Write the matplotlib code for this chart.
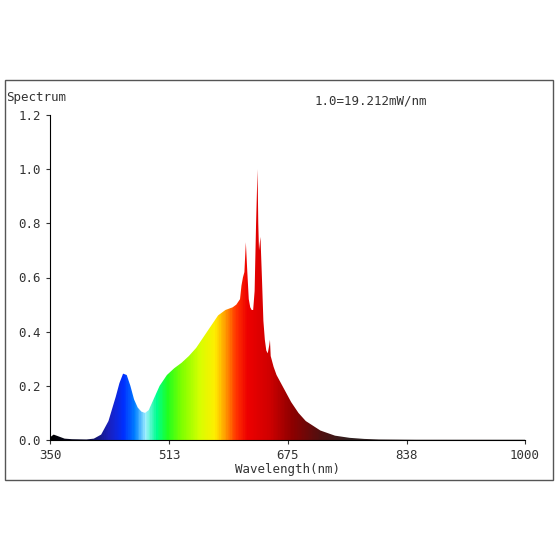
import numpy as np
import matplotlib
matplotlib.use('Agg')
import matplotlib.pyplot as plt
from matplotlib.colors import LinearSegmentedColormap
from matplotlib.patches import Polygon, Rectangle

# wavelength (nm) and relative intensity
wl = [350, 355, 360, 365, 370, 380, 400, 410, 420, 430, 440, 445, 450, 455, 460, 465, 470, 475,
      480, 485, 490, 500, 510, 520, 530, 540, 550, 560, 570, 580, 590, 600, 605, 610, 612, 614,
      616, 618, 620, 622, 624, 626, 628, 630, 632, 634, 635, 636, 638, 640, 642, 644, 646, 648,
      650, 651, 652, 654, 656, 660, 670, 680, 690, 700, 720, 740, 760, 780, 800, 850, 900, 950, 1000]
val = [0.01, 0.02, 0.015, 0.01, 0.005, 0.003, 0.002, 0.005, 0.02, 0.07, 0.16, 0.21, 0.245, 0.24, 0.2,
       0.15, 0.12, 0.105, 0.1, 0.11, 0.14, 0.2, 0.24, 0.265, 0.285, 0.31, 0.34, 0.38, 0.42, 0.46,
       0.48, 0.49, 0.5, 0.52, 0.57, 0.6, 0.62, 0.73, 0.62, 0.52, 0.49, 0.48, 0.48, 0.55, 0.8, 1.0,
       0.8, 0.7, 0.75, 0.6, 0.44, 0.37, 0.33, 0.32, 0.35, 0.37, 0.31, 0.29, 0.27, 0.24, 0.19, 0.14,
       0.1, 0.07, 0.035, 0.016, 0.008, 0.004, 0.002, 0.001, 0.001, 0.001, 0.001]

# colour stops by wavelength
stop_wl = [350, 400, 430, 450, 465, 480, 495, 510, 530, 555, 575, 590, 605, 620, 650, 680, 720, 760, 1000]
stop_col = ['#000000', '#101040', '#1a20c0', '#0030ff', '#0080ff', '#a0f0ff', '#00ff90', '#20ff20',
            '#80ff00', '#d8ff00', '#ffee00', '#ff9900', '#ff3000', '#ee0000', '#d00000', '#900000',
            '#501010', '#302020', '#303030']
cmap = LinearSegmentedColormap.from_list(
    'spec', [((w - 350) / 650, c) for w, c in zip(stop_wl, stop_col)])

fig = plt.figure(figsize=(5.6, 5.6), dpi=100)
fig.patches.append(Rectangle((5/560, 80/560), 548/560, 400/560, transform=fig.transFigure,
                             fill=False, edgecolor='#555555', lw=1))
ax = fig.add_axes([50/560, 120/560, 475/560, 325/560])

font = dict(family='DejaVu Sans Mono', size=9)
grad = np.linspace(0, 1, 650).reshape(1, -1)
im = ax.imshow(grad, extent=[350, 1000, 0, 1.2], aspect='auto', cmap=cmap,
               vmin=0, vmax=1, zorder=1)
poly = Polygon(list(zip(wl, val)) + [(1000, 0), (350, 0)], closed=True,
               transform=ax.transData, facecolor='none', edgecolor='none')
ax.add_patch(poly)
im.set_clip_path(poly)

ax.set_xlim(350, 1000)
ax.set_ylim(0, 1.2)
ax.set_xticks([350, 513, 675, 838, 1000])
ax.set_yticks([0, 0.2, 0.4, 0.6, 0.8, 1.0, 1.2])
ax.set_xticklabels(['350', '513', '675', '838', '1000'], **font)
ax.set_yticklabels(['0.0', '0.2', '0.4', '0.6', '0.8', '1.0', '1.2'], **font)
ax.spines['top'].set_visible(False)
ax.spines['right'].set_visible(False)
ax.tick_params(length=3, color='#333333', labelcolor='#333333')
ax.set_xlabel('Wavelength(nm)', labelpad=1, color='#333333', **font)
fig.text(6/560, 1 - 97/560, 'Spectrum', ha='left', va='center', color='#333333', **font)
fig.text(315/560, 1 - 101/560, '1.0=19.212mW/nm', ha='left', va='center', color='#333333', **font)

fig.savefig('out.png', dpi=100)
